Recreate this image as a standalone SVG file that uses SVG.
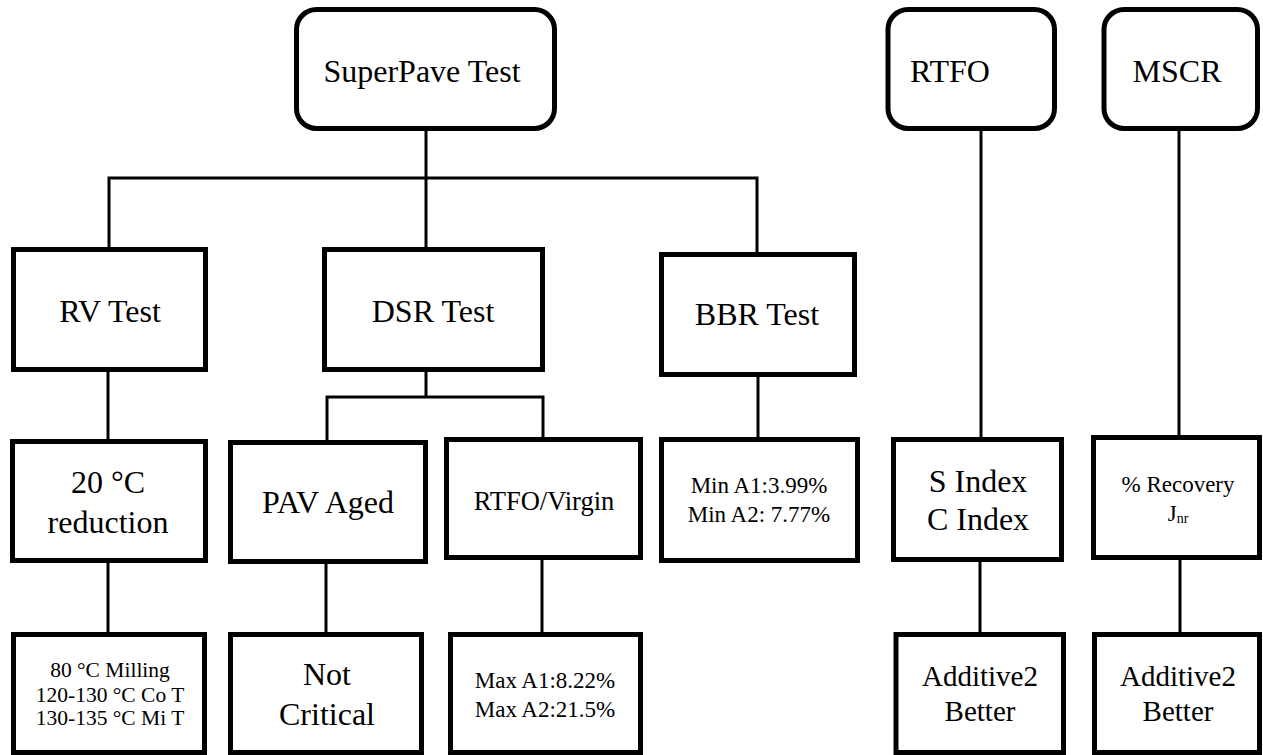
<svg xmlns="http://www.w3.org/2000/svg" width="1263" height="755" viewBox="0 0 1263 755">
  <style>
    .box { fill: #ffffff; stroke: #000000; stroke-width: 5; }
    .link { fill: none; stroke: #000000; stroke-width: 3; }
    text { font-family: "Liberation Serif", "Times New Roman", serif; fill: #000000; text-anchor: middle; }
    .lg { font-size: 32px; }
    .md { font-size: 26.5px; }
    .sm { font-size: 23px; }
    .xs { font-size: 21.5px; }
    .ad { font-size: 29px; }
  </style>
  <rect width="1263" height="755" fill="#ffffff"/>

  <!-- connectors -->
  <g id="connectors">
    <path class="link" d="M426,131 V247"/>
    <path class="link" d="M109,247 V178 H757 V252"/>
    <path class="link" d="M108,372 V439"/>
    <path class="link" d="M426,372 V397"/>
    <path class="link" d="M327,440 V397 H543 V437"/>
    <path class="link" d="M758,377 V437"/>
    <path class="link" d="M981,131 V437"/>
    <path class="link" d="M1179,131 V435"/>
    <path class="link" d="M108,563 V632"/>
    <path class="link" d="M326,564 V632"/>
    <path class="link" d="M542,560 V632"/>
    <path class="link" d="M980,562 V632"/>
    <path class="link" d="M1180,560 V632"/>
  </g>

  <!-- top row -->
  <g id="superpave">
    <rect class="box" x="296.5" y="9.5" width="258" height="119" rx="20"/>
    <text class="lg" x="422" y="82">SuperPave Test</text>
  </g>
  <g id="rtfo">
    <rect class="box" x="888" y="9.5" width="166.5" height="119" rx="20"/>
    <text class="lg" x="950" y="82">RTFO</text>
  </g>
  <g id="mscr">
    <rect class="box" x="1104" y="9.5" width="153.5" height="119" rx="20"/>
    <text class="lg" x="1177" y="82">MSCR</text>
  </g>

  <!-- second row -->
  <g id="rv-test">
    <rect class="box" x="13.5" y="249.5" width="192" height="120"/>
    <text class="lg" x="110" y="322">RV Test</text>
  </g>
  <g id="dsr-test">
    <rect class="box" x="324.5" y="249.5" width="218" height="120"/>
    <text class="lg" x="433" y="322">DSR Test</text>
  </g>
  <g id="bbr-test">
    <rect class="box" x="661.5" y="254.5" width="193" height="120"/>
    <text class="lg" x="757" y="325">BBR Test</text>
  </g>

  <!-- third row -->
  <g id="temp-reduction">
    <rect class="box" x="12.5" y="441.5" width="193" height="119"/>
    <text class="lg" x="108" y="493">20 °C</text>
    <text class="lg" x="108" y="533">reduction</text>
  </g>
  <g id="pav-aged">
    <rect class="box" x="230.5" y="442.5" width="195" height="119"/>
    <text class="lg" x="328" y="513">PAV Aged</text>
  </g>
  <g id="rtfo-virgin">
    <rect class="box" x="446.5" y="439.5" width="194" height="118"/>
    <text class="md" x="544" y="510">RTFO/Virgin</text>
  </g>
  <g id="bbr-min">
    <rect class="box" x="661.5" y="439.5" width="196" height="121"/>
    <text class="sm" x="759" y="493">Min A1:3.99%</text>
    <text class="sm" x="759" y="522">Min A2: 7.77%</text>
  </g>
  <g id="s-c-index">
    <rect class="box" x="893.5" y="439.5" width="168" height="120"/>
    <text class="lg" x="978" y="492">S Index</text>
    <text class="lg" x="978" y="530">C Index</text>
  </g>
  <g id="recovery-jnr">
    <rect class="box" x="1093.5" y="437.5" width="166" height="120"/>
    <text class="sm" x="1178" y="492">% Recovery</text>
    <text class="sm" x="1178" y="521">J<tspan font-size="14" dy="2">nr</tspan></text>
  </g>

  <!-- bottom row -->
  <g id="mix-temps">
    <rect class="box" x="13.5" y="634.5" width="191" height="118"/>
    <text class="xs" x="110" y="677">80 °C Milling</text>
    <text class="xs" x="110" y="702">120-130 °C Co T</text>
    <text class="xs" x="110" y="725">130-135 °C Mi T</text>
  </g>
  <g id="not-critical">
    <rect class="box" x="230.5" y="634.5" width="191" height="118"/>
    <text class="lg" x="327" y="685">Not</text>
    <text class="lg" x="327" y="725">Critical</text>
  </g>
  <g id="dsr-max">
    <rect class="box" x="450.5" y="634.5" width="190" height="118"/>
    <text class="sm" x="545" y="688">Max A1:8.22%</text>
    <text class="sm" x="545" y="717">Max A2:21.5%</text>
  </g>
  <g id="additive-index">
    <rect class="box" x="896" y="634.5" width="167.5" height="118"/>
    <text class="ad" x="980" y="686">Additive2</text>
    <text class="ad" x="980" y="721">Better</text>
  </g>
  <g id="additive-mscr">
    <rect class="box" x="1094.5" y="634.5" width="165" height="118"/>
    <text class="ad" x="1178" y="686">Additive2</text>
    <text class="ad" x="1178" y="721">Better</text>
  </g>
</svg>
